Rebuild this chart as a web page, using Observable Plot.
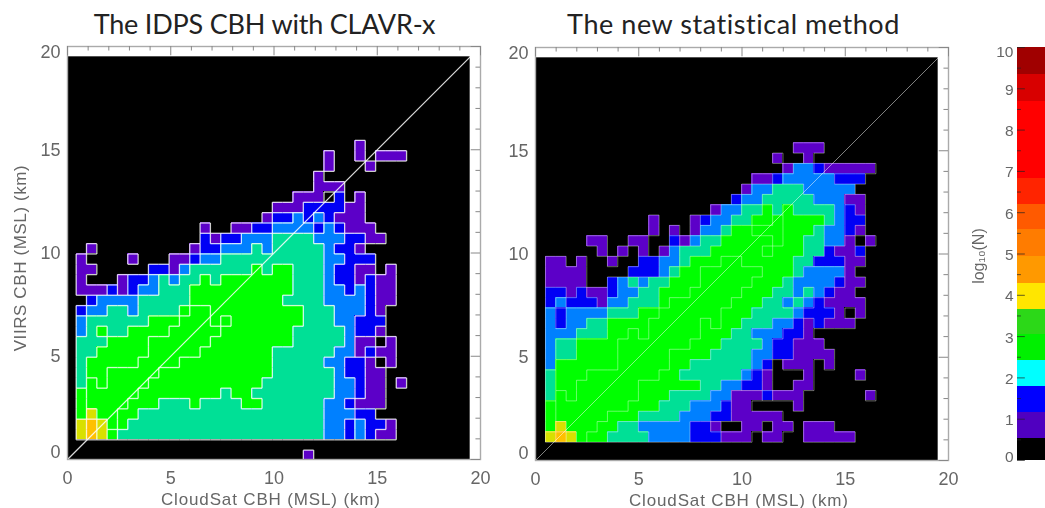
<!DOCTYPE html>
<html>
<head>
<meta charset="utf-8">
<script src="https://cdn.jsdelivr.net/npm/d3@7"></script>
<script src="https://cdn.jsdelivr.net/npm/@observablehq/plot@0.6"></script>
<style>
html,body{margin:0;padding:0;background:#fff;width:1045px;height:508px;overflow:hidden}
.abs{position:absolute}
.title{font-family:Lato,"Open Sans",sans-serif;font-size:27px;color:#222;white-space:nowrap;transform:translateX(-50%);top:7px}
svg{overflow:visible}
#root svg{filter:blur(0.45px)}
.spacedX{letter-spacing:.85px}
.spacedY{letter-spacing:.6px}
</style>
</head>
<body>
<div id="root"></div>
<script>
const titleLeft = "The IDPS CBH with CLAVR-x";
const titleRight = "The new statistical method";
const xAxisTitle = "CloudSat CBH (MSL) (km)";
const yAxisTitle = "VIIRS CBH (MSL) (km)";
const barTitle = "log₁₀(N)";

const axisLabels = [0, 5, 10, 15, 20];
const minorTicks = [1,2,3,4,6,7,8,9,11,12,13,14,16,17,18,19];
const diagonal = [0, 19.5];

// level codes: 0 none, 1 purple, 2 blue, 3 azure, 4 teal, 5 green, 6 green (inner contour), 7 lime, 8 orange
const levels = [1, 2, 3, 4, 5, 6, 7, 8];
const levelColors = ["#5c00c8", "#0000f5", "#0080ff", "#00e096", "#00ff00", "#00ff00", "#d8e000", "#ffc000"];

// rows listed bottom first, cells 0.5 km wide; the first two rows of the left panel lie below the main block
const leftRows = [
"0000000000 0000000000 00 1",
"",
"7875 44444444444444444444 33232110",
"78765 4444444444444444444 33232210",
"5766 55 444444444444444444 333 22 000",
"56666 555 444 5 4444 55 444444 33 2 111 00",
"5 66666 55555555 4 55 44444444 33 2 11 00",
"4 6 5 6666 55555555555 4444444 33 2 11 0 1",
"4 55 66666 55555555555 444444 3 22 11 00",
"4 55555 6666 555555555 44444 33 22 1 0 1 0",
"44 55555 66666 5555555 444444 33 1 2 11 0",
"444 5555 666666 55555555 44444 3 11 0 1 0",
"3 4 5 44 5555 66666 5555555 44444 3 22 1 00",
"3 444444 555 666 5 6 5555555 444 33 222 00",
"2 33 44 3 4444 5 66 555555555 444 333 2 1 00",
"0 2 3333 44444 555555555 4444 3333 2 11 0",
"111 2 1 2 33 444 5555555555 444 33 2 3 2 11 0",
"1 000 1 22 3 4 3 44 5 4 5555555 444 3 22 1 2 11 0",
"11 00000 22 1 3 444444 5 4 55 444 3 22 11 0 1 0",
"1 0000 1 000 11 2 33 4444444444 33 222 000",
"0 1 000000000 1 22 333 4 3 44444 3 22 1 0000",
"000000000000 2 1 22 333 4444 333 22 11 00",
"000000000000 1 00 11 22 3333 2 3 2 111 000",
"000000000000000000 1 22 3 2 3 2 111 0000",
"0000000000000000000 111 2222 11 0000",
"000000000000000000000 111 0 2 0 1 0000",
"00000000000000000000000 111 000000",
"00000000000000000000000 1 00000000",
"000000000000000000000000 1 000 1 000",
"000000000000000000000000 1 00 1 0 111",
"000000000000000000000000000 1 0000"
];

const rightRows = [
"787655 4444 3333 222 111 0 11 00 11111 00",
"5 7 666 55 44 33333 22 1 00 11 0 11 0 111 0000",
"5 66666 555 4444 333 22 11111 000000000",
"5 6666666 555 444 333 2 11 0000 1 0000000",
"4 6 5 666666 555 4444 33 111 2 111 000000 1",
"4 55 666666 555555 44 33 22 1 00 11 000000",
"4 555 6666666 55 444444 3 2 1 000 1 0000 1 0",
"3 555555 66666 55 444444 3 2 0 111 0 1 0000",
"3 44 5555 66666 5555 4444 33 22 1111 0000",
"3 44 5555 6666666 555 4444 3 22 111 00000",
"333 444 55 6 5 66666 555 44 333 22 1 000000",
"3 2 33 44 5555 66666 5 6 55 444 33 2 1 2 111 00",
"3 2 3333 444 55 666666 555 4444 3 222 1 0 1 0",
"2 3 222 1 33 444 5 666666 555 44 3 4 3 2 1111 0",
"22 1 2 11 2 33 44 555 66666 555 44 3 4 3 2 11 00",
"1111 00 2 3 4 3 44 555 66666 555 4 3333 2 11 0",
"1111 0000 222 3 4 55 666666 555 4 3333 1 00",
"11 0 1 00 1 00 22 33 4 555 66 55555 44 222 11 0",
"00000 1 0 1 0 1 0 1 3 444 55555 6 555 44 2 11 2 0",
"0000 11 00 11 00 2 1 3 44 55555 6 55 44 33 1 0 1",
"0000000000 1 0 1 0 1 33 4 55 666 555 4 33 2 1 0",
"0000000000 1 000 1 2 33 44 55 6 5555 4 3 22 0",
"0000000000000000 1 33 44 5 4 5 4444 3 2 1 0",
"000000000000000000 2 33 44444 333 11 0",
"0000000000000000000 1 33 444 33333 00",
"00000000000000000000 11 2 33333 222 0",
"00000000000000000000000 1 33 2 11111",
"0000000000000000000000 1 00 1 000000",
"000000000000000000000000 111 00000"
];

const barEdges = [0, 0.54, 1.17, 1.79, 2.42, 3.04, 3.66, 4.29, 4.94, 5.6, 6.2, 6.83, 7.45, 8.08, 8.7, 9.35, 10];
const barColors = ["#000000","#5000c0","#0000ff","#00ffff","#00f000","#2cd818","#ffe600","#ff9900","#ff7c00","#ff5a00","#ff2400","#ff0000","#ff0000","#ff0000","#d80000","#a00000"];
const barLabels = [0,1,2,3,4,5,6,7,8,9,10];
const barMinor = [0.5,1.5,2.5,3.5,4.5,5.5,6.5,7.5,8.5,9.5];

const parse = rows => rows.map(r => Array.from(r.replace(/ /g, ""), Number));

function cellsOf(grid, x0, y0) {
  const out = [];
  grid.forEach((row, j) => row.forEach((v, k) => {
    if (v > 0) out.push({x1: x0 + k * 0.5, x2: x0 + (k + 1) * 0.5, y1: y0 + j * 0.5, y2: y0 + (j + 1) * 0.5, v});
  }));
  return out;
}
function edgesOf(grid, x0, y0) {
  const get = (k, j) => (grid[j] && grid[j][k]) || 0;
  const out = [];
  for (let j = -1; j <= grid.length; j++) for (let k = -1; k <= 32; k++) {
    const v = get(k, j);
    if (v !== get(k + 1, j)) out.push({x1: x0 + (k + 1) * 0.5, x2: x0 + (k + 1) * 0.5, y1: y0 + j * 0.5, y2: y0 + (j + 1) * 0.5});
    if (v !== get(k, j + 1)) out.push({x1: x0 + k * 0.5, x2: x0 + (k + 1) * 0.5, y1: y0 + (j + 1) * 0.5, y2: y0 + (j + 1) * 0.5});
  }
  return out;
}

const axisFont = {fontFamily: "Liberation Sans, Arial, sans-serif", fill: "#666"};

function panel(rows, o) {
  const grid = parse(rows);
  const marks = [
    Plot.rect([0], {x1: diagonal[0], x2: diagonal[1], y1: diagonal[0], y2: diagonal[1], fill: "black"}),
    Plot.rect(cellsOf(grid, o.x0, o.y0), {x1: "x1", x2: "x2", y1: "y1", y2: "y2", fill: "v", clip: true, shapeRendering: "crispEdges"}),
    Plot.link(edgesOf(grid, o.x0, o.y0), {x1: "x1", y1: "y1", x2: "x2", y2: "y2", stroke: "white", strokeWidth: o.edgeWidth, strokeOpacity: o.edgeOpacity, clip: true}),
    Plot.link([0], {x1: diagonal[0], y1: diagonal[0], x2: diagonal[1], y2: diagonal[1], stroke: "white", strokeWidth: o.diagWidth, strokeOpacity: o.diagOpacity}),
    Plot.frame({stroke: "#aaa", strokeWidth: 1.4}),
    Plot.ruleX(minorTicks, {y1: 20, y2: 19.78, stroke: "#888"}),
    Plot.ruleX(axisLabels, {y1: 20, y2: 19.55, stroke: "#888"}),
    Plot.ruleY(minorTicks, {x1: 20, x2: 19.78, stroke: "#888"}),
    Plot.ruleY(axisLabels, {x1: 20, x2: 19.55, stroke: "#888"}),
    Plot.text(axisLabels, {x: d => d, y: 0, dy: 19, text: d => String(d), fontSize: 18, ...axisFont}),
    Plot.text(axisLabels.filter(d => d > 0 && d < 20), {x: 0, y: d => d, dx: -7, textAnchor: "end", text: d => String(d), fontSize: 18, ...axisFont}),
    Plot.text([20], {x: 0, y: d => d, dx: -7, dy: 6, textAnchor: "end", text: d => String(d), fontSize: 18, ...axisFont}),
    Plot.text([0], {x: 0, y: d => d, dx: -7, dy: -7, textAnchor: "end", text: d => String(d), fontSize: 18, ...axisFont}),
    Plot.text([xAxisTitle], {x: 9.85, y: 0, dy: 40, text: d => d, fontSize: 17, className: "spacedX", ...axisFont})
  ];
  if (o.yTitle) marks.push(Plot.text([o.yTitle], {x: 0, y: 10, dx: -47, dy: 5, rotate: -90, text: d => d, fontSize: 17, className: "spacedY", ...axisFont}));
  return Plot.plot({
    width: o.width, height: 508,
    marginLeft: o.marginLeft, marginRight: o.marginRight, marginTop: o.marginTop, marginBottom: o.marginBottom,
    x: {domain: [0, 20], axis: null},
    y: {domain: [0, 20], axis: null},
    color: {type: "ordinal", domain: levels, range: levelColors},
    style: {background: "none"},
    marks
  });
}

function colorbar() {
  const bands = barColors.map((c, i) => ({y1: barEdges[i], y2: barEdges[i + 1], c}));
  return Plot.plot({
    width: 85, height: 508,
    marginLeft: 57, marginRight: 0, marginTop: 47, marginBottom: 48,
    x: {domain: [0, 1], axis: null},
    y: {domain: [0, 10], axis: null},
    style: {background: "none"},
    marks: [
      Plot.rect(bands, {x1: 0, x2: 1, y1: "y1", y2: "y2", fill: d => d.c, shapeRendering: "crispEdges"}),
      Plot.ruleY(barLabels, {x1: 0, x2: 0.28, stroke: "#222", strokeOpacity: 0.7}),
      Plot.ruleY(barMinor, {x1: 0, x2: 0.14, stroke: "#222", strokeOpacity: 0.7}),
      Plot.text(barLabels.filter(d => d > 0 && d < 10), {x: 0, y: d => d, dx: -4, dy: 1, textAnchor: "end", text: d => String(d), fontSize: 15.5, ...axisFont}),
      Plot.text([10], {x: 0, y: d => d, dx: -4, dy: 5, textAnchor: "end", text: d => String(d), fontSize: 15.5, ...axisFont}),
      Plot.text([0], {x: 0, y: d => d, dx: -4, dy: -3, textAnchor: "end", text: d => String(d), fontSize: 15.5, ...axisFont}),
      Plot.text([barTitle], {x: 0, y: 4.95, dx: -39, rotate: -90, text: d => d, fontSize: 16, ...axisFont})
    ]
  });
}

const root = document.getElementById("root");
function place(el, left) { el.classList.add("abs"); el.style.left = left + "px"; el.style.top = "0px"; root.appendChild(el); }
function title(text, cx, spacing) { const d = document.createElement("div"); d.className = "abs title"; d.textContent = text; d.style.left = cx + "px"; d.style.letterSpacing = spacing + "px"; root.appendChild(d); }

place(panel(leftRows, {width: 490, marginLeft: 67, marginRight: 10, marginTop: 46, marginBottom: 49, x0: 0.42, y0: -0.046, edgeWidth: 1.3, edgeOpacity: 0.8, diagWidth: 1.2, diagOpacity: 0.85, yTitle: yAxisTitle}), 0);
place(panel(rightRows, {width: 470, marginLeft: 45, marginRight: 12, marginTop: 47, marginBottom: 48, x0: 0.484, y0: 0.886, edgeWidth: 0.9, edgeOpacity: 0.45, diagWidth: 1, diagOpacity: 0.5}), 490);
place(colorbar(), 960);
title(titleLeft, 264.5, -0.2);
title(titleRight, 733.5, 0.55);
</script>
</body>
</html>
